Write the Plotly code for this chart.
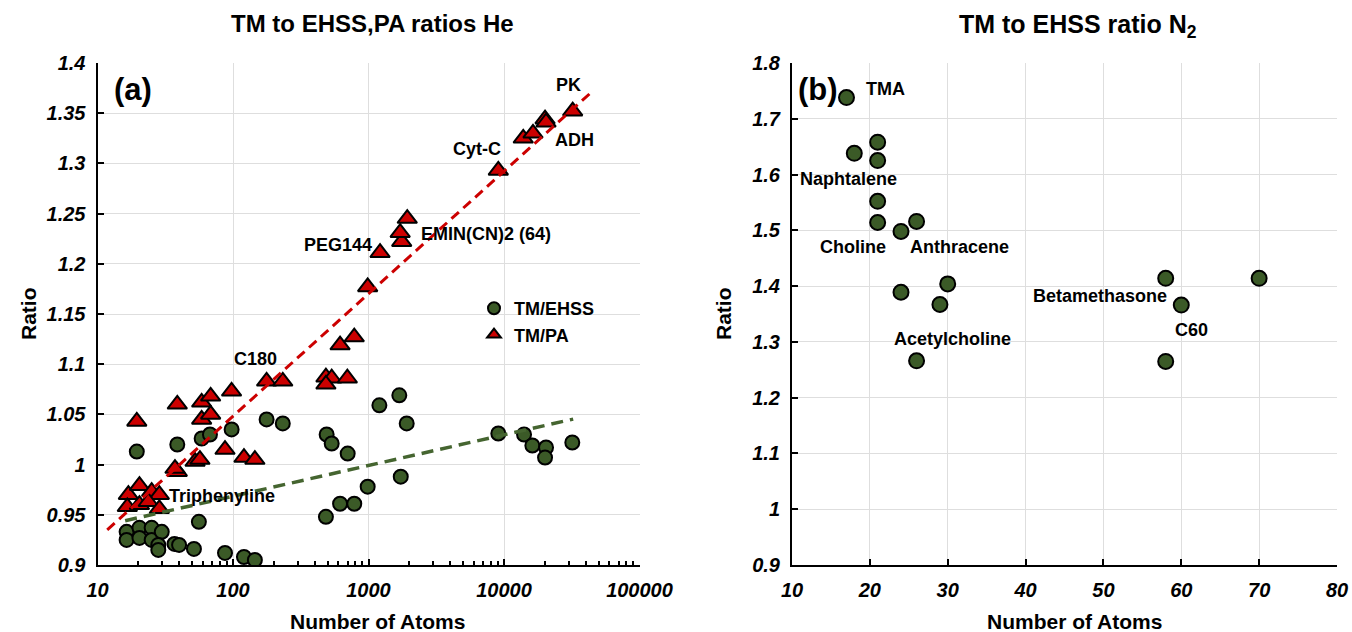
import numpy as np
import plotly.graph_objects as go

# ---------------- data: panel (a) He ----------------
ehss_atoms = [16.4, 16.4, 20.4, 20.4, 25.1, 25.1, 29.8, 28.1, 28.1, 37, 40, 51.5, 87.3, 120.5, 145,
              56, 19.5, 38.8, 58.7, 67.6, 97.7, 177, 233, 491, 535, 702, 1203, 1688, 1914, 1730,
              986, 617, 785, 485, 9080, 14060, 16190, 20430, 20090, 31920]
ehss_ratio = [0.933, 0.925, 0.937, 0.927, 0.937, 0.925, 0.933, 0.920, 0.915, 0.921, 0.920, 0.916, 0.912, 0.908, 0.905,
              0.943, 1.013, 1.020, 1.026, 1.030, 1.035, 1.045, 1.041, 1.030, 1.021, 1.011, 1.059, 1.069, 1.041, 0.988,
              0.978, 0.961, 0.961, 0.948, 1.031, 1.030, 1.019, 1.017, 1.007, 1.022]

pa_atoms = [19.5, 38.8, 58.7, 68.4, 97.6, 58.7, 68.4, 87.3, 120.5, 145, 52.5, 57, 38.8, 37.3,
            16.9, 20.4, 25.1, 28.6, 16.6, 20.4, 23.7, 28.6, 177, 233, 485, 535, 485, 698, 617, 785,
            986, 1217, 1758, 1713, 1932, 9080, 13870, 16370, 20090, 20430, 32130]
pa_ratio = [1.043, 1.060, 1.062, 1.068, 1.073, 1.045, 1.050, 1.015, 1.007, 1.005, 1.003, 1.005, 0.993, 0.996,
            0.970, 0.979, 0.973, 0.970, 0.958, 0.960, 0.963, 0.956, 1.083, 1.083, 1.087, 1.086, 1.080, 1.086, 1.119, 1.127,
            1.177, 1.211, 1.222, 1.231, 1.245, 1.293, 1.325, 1.330, 1.344, 1.341, 1.352]

# logarithmic trend lines: ratio = intercept + slope * log10(atoms)
pa_fit = [0.8042, 0.122]
pa_fit_atoms = [11.8, 43000]
ehss_fit = [0.9073, 0.0306]
ehss_fit_atoms = [16, 32400]

a_labels = ["PK", "ADH", "Cyt-C", "PEG144", "EMIN(CN)2 (64)", "C180", "Triphenyline"]

a_xtickvals = [10, 100, 1000, 10000, 100000]
a_xticktext = ["10", "100", "1000", "10000", "100000"]
a_ytickvals = [0.9, 0.95, 1.0, 1.05, 1.1, 1.15, 1.2, 1.25, 1.3, 1.35, 1.4]
a_yticktext = ["0.9", "0.95", "1", "1.05", "1.1", "1.15", "1.2", "1.25", "1.3", "1.35", "1.4"]

# ---------------- data: panel (b) N2 ----------------
n2_atoms = [17, 18, 21, 21, 21, 21, 24, 26, 24, 30, 29, 26, 58, 70, 60, 58]
n2_ratio = [1.738, 1.638, 1.658, 1.625, 1.552, 1.514, 1.498, 1.516, 1.389, 1.404, 1.367, 1.266,
            1.414, 1.414, 1.366, 1.265]
b_labels = ["TMA", "Naphtalene", "Choline", "Anthracene", "Betamethasone", "C60", "Acetylcholine"]

b_xtickvals = [10, 20, 30, 40, 50, 60, 70, 80]
b_xticktext = ["10", "20", "30", "40", "50", "60", "70", "80"]
b_ytickvals = [0.9, 1.0, 1.1, 1.2, 1.3, 1.4, 1.5, 1.6, 1.7, 1.8]
b_yticktext = ["0.9", "1", "1.1", "1.2", "1.3", "1.4", "1.5", "1.6", "1.7", "1.8"]

# ---------------- styling ----------------
W, H = 1352, 632
FONT = "Liberation Sans, Arial, Helvetica, sans-serif"
GREEN = "#3b5a27"
RED = "#cc0000"
GRID = "#dedede"


def fx(p):
    return p / W


def fy(p):
    return 1 - p / H


fig = go.Figure()

fig.add_trace(go.Scatter(
    x=ehss_atoms, y=ehss_ratio, mode="markers", name="TM/EHSS",
    marker=dict(symbol="circle", size=14, color=GREEN, line=dict(color="black", width=2)),
    xaxis="x", yaxis="y"))
fig.add_trace(go.Scatter(
    x=pa_atoms, y=pa_ratio, mode="markers", name="TM/PA",
    marker=dict(symbol="triangle-up", size=17, color=RED, line=dict(color="black", width=2)),
    xaxis="x", yaxis="y"))

pa_line_y = [pa_fit[0] + pa_fit[1] * np.log10(v) for v in pa_fit_atoms]
ehss_line_y = [ehss_fit[0] + ehss_fit[1] * np.log10(v) for v in ehss_fit_atoms]
fig.add_trace(go.Scatter(
    x=pa_fit_atoms, y=pa_line_y, mode="lines", showlegend=False, hoverinfo="skip",
    line=dict(color=RED, width=3, dash="10px,6px"), xaxis="x", yaxis="y"))
fig.add_trace(go.Scatter(
    x=ehss_fit_atoms, y=ehss_line_y, mode="lines", showlegend=False, hoverinfo="skip",
    line=dict(color="#456530", width=3.5, dash="12px,7px"), xaxis="x", yaxis="y"))

fig.add_trace(go.Scatter(
    x=n2_atoms, y=n2_ratio, mode="markers", showlegend=False,
    marker=dict(symbol="circle", size=15, color=GREEN, line=dict(color="black", width=2)),
    xaxis="x2", yaxis="y2"))

tickfont = dict(family=FONT, size=20, color="black", weight="bold", style="italic")
common = dict(showline=True, linecolor="black", linewidth=2, ticks="inside", ticklen=6,
              tickwidth=1.5, tickcolor="black", showgrid=True, gridcolor=GRID, gridwidth=1,
              zeroline=False, tickfont=tickfont, ticklabelstandoff=6, automargin=False)

fig.update_layout(
    width=W, height=H,
    margin=dict(l=0, r=0, t=0, b=0, pad=0, autoexpand=False),
    paper_bgcolor="white", plot_bgcolor="white",
    font=dict(family=FONT, color="black"),
    showlegend=True,
    legend=dict(x=fx(474), y=fy(290), xanchor="left", yanchor="top",
                bgcolor="rgba(0,0,0,0)", itemsizing="constant", tracegroupgap=0,
                font=dict(family=FONT, size=18, color="black", weight="bold")),
    xaxis=dict(domain=[fx(97.5), fx(639.5)], type="log", range=[1, 5],
               tickvals=a_xtickvals, ticktext=a_xticktext,
               minor=dict(ticks="inside", ticklen=4, tickcolor="black", dtick="D1", showgrid=False),
               anchor="y", **common),
    yaxis=dict(domain=[fy(565), fy(63)], range=[0.9, 1.4],
               tickvals=a_ytickvals, ticktext=a_yticktext, anchor="x", **common),
    xaxis2=dict(domain=[fx(792), fx(1337)], range=[10, 80],
                tickvals=b_xtickvals, ticktext=b_xticktext, anchor="y2", **common),
    yaxis2=dict(domain=[fy(565), fy(63)], range=[0.9, 1.8],
                tickvals=b_ytickvals, ticktext=b_yticktext, anchor="x2", **common),
)

ann = []


def add_text(text, x, y, size=18, xanchor="center", angle=0):
    ann.append(dict(text=text, x=fx(x), y=fy(y), xref="paper", yref="paper",
                    xanchor=xanchor, yanchor="middle", showarrow=False, textangle=angle,
                    font=dict(family=FONT, size=size, color="black", weight="bold")))


# titles and axis titles
add_text("TM to EHSS,PA ratios He", 372.5, 24, size=24)
add_text("TM to EHSS ratio N<sub>2</sub>", 1078, 26, size=25)
add_text("Number of Atoms", 377, 621, size=21)
add_text("Number of Atoms", 1074, 621, size=21)
add_text("Ratio", 28, 314, size=21, angle=-90)
add_text("Ratio", 723, 314, size=21, angle=-90)

# panel labels
add_text("(a)", 112, 90, size=31, xanchor="left")
add_text("(b)", 796, 90, size=31, xanchor="left")

# point labels panel (a)
a_label_pos = [(568, 85), (574, 140), (477, 149), (338, 245), (486, 234), (255, 359), (222, 496)]
for t, (x, y) in zip(a_labels, a_label_pos):
    add_text(t, x, y)

# point labels panel (b)
b_label_pos = [(885, 89), (848, 179), (853, 247), (959, 247), (1100, 296), (1191, 330), (952, 339)]
for t, (x, y) in zip(b_labels, b_label_pos):
    add_text(t, x, y)

fig.update_layout(annotations=ann)

fig.write_html("out.html")
